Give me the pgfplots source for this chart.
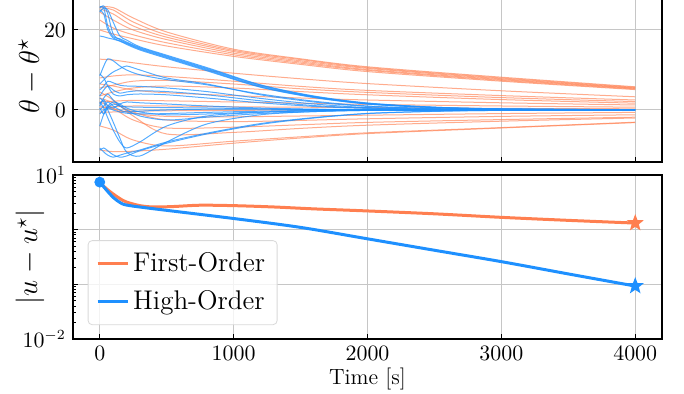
\documentclass[border=0pt]{standalone}
\usepackage{pgfplots}
\pgfplotsset{compat=1.18}
\definecolor{coralc}{RGB}{255,127,80}
\definecolor{dodger}{RGB}{30,144,255}
\pgfdeclareplotmark{fstar}{%
  \pgfpathmoveto{\pgfpointpolar{90}{\pgfplotmarksize}}%
  \pgfpathlineto{\pgfpointpolar{126}{0.42\pgfplotmarksize}}%
  \pgfpathlineto{\pgfpointpolar{162}{\pgfplotmarksize}}%
  \pgfpathlineto{\pgfpointpolar{198}{0.42\pgfplotmarksize}}%
  \pgfpathlineto{\pgfpointpolar{234}{\pgfplotmarksize}}%
  \pgfpathlineto{\pgfpointpolar{270}{0.42\pgfplotmarksize}}%
  \pgfpathlineto{\pgfpointpolar{306}{\pgfplotmarksize}}%
  \pgfpathlineto{\pgfpointpolar{342}{0.42\pgfplotmarksize}}%
  \pgfpathlineto{\pgfpointpolar{18}{\pgfplotmarksize}}%
  \pgfpathlineto{\pgfpointpolar{54}{0.42\pgfplotmarksize}}%
  \pgfpathclose\pgfusepathqfill}
\pgfplotsset{
  common/.style={scale only axis, width=294.5pt, xmin=-200, xmax=4200,
    xtick={0,1000,2000,3000,4000}, tick align=inside, major tick length=2.5pt,
    minor tick length=1.5pt, grid=major, major grid style={gray!45, line width=0.5pt},
    axis line style={line width=0.7pt}, tick style={black, line width=0.5pt},
    xtick pos=lower, ytick pos=left,
    xticklabel style={/pgf/number format/set thousands separator={}},
    tick label style={font=\fontsize{10.5}{12}\selectfont}, clip=true},
  fo/.style={coralc, line width=0.5pt, opacity=0.65, smooth},
  ho/.style={dodger, line width=0.5pt, opacity=0.75, smooth},
}
\begin{document}
\begin{tikzpicture}
% ---------------- bottom axis ----------------
\begin{axis}[common, at={(0,0)}, anchor=south west, height=82pt,
  ymode=log, ymin=0.01, ymax=10,
  ytick={0.01,0.1,1,10}, yticklabels={$10^{-2}$,,,$10^{1}$},
  minor ytick={0.02,0.03,0.04,0.05,0.06,0.07,0.08,0.09,0.2,0.3,0.4,0.5,0.6,0.7,0.8,0.9,2,3,4,5,6,7,8,9},
  xlabel={Time [s]}, xlabel style={font=\fontsize{11}{12}\selectfont, yshift=3pt},
  ylabel={$|u-u^\star|$}, ylabel style={font=\fontsize{14.5}{16}\selectfont,
    at={(axis description cs:-0.073,0.5)}, anchor=center},
  legend style={at={(0.025,0.085)}, anchor=south west, draw=gray!30, rounded corners=2pt,
    fill=white, fill opacity=0.8, text opacity=1, font=\fontsize{13.5}{15}\selectfont,
    row sep=4pt, inner sep=4pt},
  legend cell align=left,
  legend image code/.code={\draw[line width=1.5pt] (0pt,0pt) -- (15pt,0pt);}]
\addplot[coralc, line width=1.5pt, smooth] coordinates {(0,7.4)(50,5.6)(100,4.5)(150,3.7)(200,3.2)(300,2.75)(400,2.6)(550,2.65)(750,2.8)(1000,2.75)(1300,2.6)(1600,2.4)(2000,2.2)(2500,1.95)(3000,1.68)(3500,1.48)(4000,1.32)};
\addlegendentry{First-Order}
\addplot[dodger, line width=1.5pt, smooth] coordinates {(0,7.4)(50,5.3)(100,3.9)(150,3.15)(200,2.82)(380,2.45)(1000,1.6)(1500,1.1)(2000,0.68)(2500,0.42)(3000,0.26)(3500,0.155)(4000,0.093)};
\addlegendentry{High-Order}
\addplot[only marks, mark=fstar, mark size=4.5pt, coralc, forget plot] coordinates {(4000,1.32)};
\addplot[only marks, mark=fstar, mark size=4.5pt, dodger, forget plot] coordinates {(4000,0.093)};
\addplot[only marks, mark=*, mark size=2.5pt, dodger, forget plot] coordinates {(0,7.4)};
\end{axis}
% ---------------- top axis ----------------
\begin{axis}[common, at={(0,88.5pt)}, anchor=south west, height=86pt,
  ymin=-13, ymax=30, ytick={0,20}, xticklabels={},
  ylabel={$\theta-\theta^\star$}, ylabel style={font=\fontsize{15}{17}\selectfont,
    at={(axis description cs:-0.073,0.5)}, anchor=center}]
% first order
\addplot[fo] coordinates {(0,25.8)(100,25.6)(250,23.0)(500,19.5)(1000,15.2)(1500,12.8)(2000,10.8)(3000,8.2)(4000,5.8)};
\addplot[fo] coordinates {(0,25.6)(100,25.0)(250,22.0)(500,18.8)(1000,14.9)(1500,12.6)(2000,10.6)(3000,8.0)(4000,5.65)};
\addplot[fo] coordinates {(0,25.3)(100,24.0)(250,21.0)(500,18.2)(1000,14.6)(1500,12.3)(2000,10.4)(3000,7.8)(4000,5.5)};
\addplot[fo] coordinates {(0,24.5)(100,22.5)(250,20.0)(500,17.6)(1000,14.2)(1500,12.0)(2000,10.1)(3000,7.6)(4000,5.4)};
\addplot[fo] coordinates {(0,22.5)(100,20.5)(250,18.8)(500,16.8)(1000,13.8)(1500,11.7)(2000,9.9)(3000,7.4)(4000,5.25)};
\addplot[fo] coordinates {(0,20.0)(100,19.0)(250,17.8)(500,16.0)(1000,13.4)(1500,11.4)(2000,9.6)(3000,7.2)(4000,5.1)};
\addplot[fo] coordinates {(0,12.7)(100,12.5)(250,11.8)(500,10.8)(1000,9.2)(1500,7.8)(2000,6.6)(3000,4.8)(4000,3.3)};
\addplot[fo] coordinates {(0,8.0)(100,8.5)(250,8.8)(500,8.4)(1000,7.2)(1500,5.9)(2000,4.9)(3000,3.6)(4000,2.5)};
\addplot[fo] coordinates {(0,5.5)(100,6.2)(250,7.2)(500,7.4)(1000,6.5)(1500,5.3)(2000,4.4)(3000,3.1)(4000,2.1)};
\addplot[fo] coordinates {(0,3.5)(100,4.5)(250,5.5)(500,6.0)(1000,5.5)(1500,4.6)(2000,3.8)(3000,2.6)(4000,1.7)};
\addplot[fo] coordinates {(0,6.5)(100,6.0)(250,5.0)(500,4.3)(1000,3.6)(1500,3.0)(2000,2.5)(3000,1.8)(4000,1.25)};
\addplot[fo] coordinates {(0,2.0)(100,2.2)(250,2.4)(500,2.3)(1000,2.0)(1500,1.7)(2000,1.4)(3000,1.0)(4000,0.7)};
\addplot[fo] coordinates {(0,0.5)(100,0.8)(250,1.0)(500,1.0)(1000,0.8)(1500,0.7)(2000,0.6)(3000,0.4)(4000,0.3)};
\addplot[fo] coordinates {(0,-0.5)(100,-0.5)(250,-0.3)(500,-0.2)(1000,-0.1)(1500,0)(2000,0)(3000,0)(4000,0)};
\addplot[fo] coordinates {(0,1.0)(100,0.3)(250,-0.8)(500,-1.6)(1000,-1.7)(1500,-1.5)(2000,-1.3)(3000,-0.9)(4000,-0.6)};
\addplot[fo] coordinates {(0,3.0)(100,1.8)(250,-0.5)(500,-2.5)(1000,-2.9)(1500,-2.6)(2000,-2.2)(3000,-1.6)(4000,-1.2)};
\addplot[fo] coordinates {(0,2.0)(100,0.5)(250,-2.5)(500,-4.5)(1000,-4.3)(1500,-3.7)(2000,-3.1)(3000,-2.4)(4000,-1.8)};
\addplot[fo] coordinates {(0,4.5)(100,2.5)(250,-1.5)(500,-6.0)(1000,-5.6)(1500,-4.6)(2000,-3.8)(3000,-2.8)(4000,-2.0)};
\addplot[fo] coordinates {(0,-4.0)(100,-5.0)(250,-7.5)(500,-9.0)(1000,-7.8)(1500,-6.7)(2000,-5.7)(3000,-4.4)(4000,-3.05)};
\addplot[fo] coordinates {(0,-10.0)(100,-10.4)(250,-10.3)(500,-9.8)(1000,-8.3)(1500,-7.0)(2000,-5.9)(3000,-4.5)(4000,-3.15)};
% high order
\addplot[ho] coordinates {(0,25.8)(30,25.5)(60,21)(100,18.3)(150,17.8)(200,17.0)(300,15.6)(500,13.5)(800,10.4)(1200,6.2)(1600,3.4)(2000,1.7)(2500,0.7)(3000,0.3)(4000,0.05)};
\addplot[ho] coordinates {(0,25.5)(30,26)(60,24)(100,19)(150,17.6)(200,16.8)(300,15.4)(500,13.3)(800,10.2)(1200,6.0)(1600,3.3)(2000,1.6)(2500,0.65)(3000,0.25)(4000,0.05)};
\addplot[ho] coordinates {(0,25.0)(30,24)(60,20)(100,18)(150,17.3)(200,16.6)(300,15.2)(500,13.1)(800,10.0)(1200,5.8)(1600,3.2)(2000,1.5)(2500,0.6)(3000,0.25)(4000,0.05)};
\addplot[ho] coordinates {(0,24.5)(30,25.5)(60,25)(100,22)(150,18.5)(200,17.5)(300,15.8)(500,13.7)(800,10.6)(1200,6.3)(1600,3.5)(2000,1.75)(2500,0.7)(3000,0.3)(4000,0.05)};
\addplot[ho] coordinates {(0,18.5)(30,18.3)(60,18.0)(100,17.7)(150,17.2)(200,16.4)(300,15.0)(500,12.9)(800,9.8)(1200,5.7)(1600,3.1)(2000,1.5)(2500,0.6)(3000,0.2)(4000,0.05)};
\addplot[ho] coordinates {(0,8.5)(30,11)(60,12.8)(100,12.3)(150,11)(200,10)(300,8.8)(500,7.6)(800,6.3)(1200,4.0)(1600,2.2)(2000,1.0)(2500,0.35)(3000,0.1)(4000,0)};
\addplot[ho] coordinates {(0,6.5)(30,7.5)(60,8.5)(100,9.5)(150,10.3)(200,11.0)(300,10.0)(500,8.0)(800,6.5)(1200,3.8)(1600,2.0)(2000,0.9)(2500,0.3)(3000,0.1)(4000,0)};
\addplot[ho] coordinates {(0,5.0)(30,6.0)(60,7.2)(100,6.8)(150,6.2)(200,6.0)(300,5.9)(500,5.5)(800,4.6)(1200,2.9)(1600,1.5)(2000,0.6)(2500,0.2)(3000,0.05)(4000,0)};
\addplot[ho] coordinates {(0,3.5)(30,5)(60,6)(100,5)(150,4.2)(200,4.5)(300,4.8)(500,4.6)(800,3.8)(1200,2.3)(1600,1.1)(2000,0.5)(2500,0.15)(3000,0.05)(4000,0)};
\addplot[ho] coordinates {(0,9)(30,8)(60,6)(100,4)(150,3.5)(200,3.8)(300,4.0)(500,3.8)(800,3.0)(1200,1.8)(1600,0.9)(2000,0.4)(2500,0.1)(3000,0)(4000,0)};
\addplot[ho] coordinates {(0,1.5)(30,2.5)(60,1.0)(100,0.5)(150,1.5)(200,2.0)(300,1.8)(500,1.5)(800,1.0)(1200,0.5)(1600,0.2)(2000,0.1)(2500,0)(3000,0)(4000,0)};
\addplot[ho] coordinates {(0,0.5)(30,-1)(60,0.5)(100,1.5)(150,1.0)(200,0.8)(300,0.7)(500,0.6)(800,0.5)(1200,0.3)(1600,0.15)(2000,0.05)(2500,0)(3000,0)(4000,0)};
\addplot[ho] coordinates {(0,0)(30,1)(60,2)(100,1)(150,0)(200,-0.5)(300,-0.3)(500,0)(800,0.2)(1200,0.2)(1600,0.1)(2000,0)(2500,0)(3000,0)(4000,0)};
\addplot[ho] coordinates {(0,-1)(30,0)(60,0.5)(100,0)(150,-0.5)(200,-0.8)(300,-1.0)(500,-0.9)(800,-0.6)(1200,-0.3)(1600,-0.1)(2000,0)(2500,0)(3000,0)(4000,0)};
\addplot[ho] coordinates {(0,2)(30,0.5)(60,-2)(100,-5)(150,-8)(200,-9.5)(300,-8)(500,-4)(800,-1.5)(1200,-0.6)(1600,-0.2)(2000,-0.05)(2500,0)(3000,0)(4000,0)};
\addplot[ho] coordinates {(0,3)(30,2)(60,0)(100,-3)(150,-7)(200,-10.5)(300,-11.5)(500,-8)(800,-3.5)(1200,-1.2)(1600,-0.4)(2000,-0.1)(2500,0)(3000,0)(4000,0)};
\addplot[ho] coordinates {(0,-10)(30,-9.5)(60,-10.2)(100,-11.2)(150,-11.8)(200,-11.5)(300,-10.2)(500,-8.3)(800,-6.0)(1200,-3.6)(1600,-2.0)(2000,-0.9)(2500,-0.35)(3000,-0.1)(4000,0)};
\addplot[ho] coordinates {(0,-9.5)(30,-10.5)(60,-11.3)(100,-11.8)(150,-11.3)(200,-10.8)(300,-10.0)(500,-8.0)(800,-5.8)(1200,-3.4)(1600,-1.9)(2000,-0.85)(2500,-0.3)(3000,-0.1)(4000,0)};
\addplot[ho] coordinates {(0,-4)(30,-1)(60,1)(100,2)(150,1.5)(200,0.5)(300,-0.5)(500,-1.2)(800,-1.0)(1200,-0.5)(1600,-0.2)(2000,-0.05)(2500,0)(3000,0)(4000,0)};
\addplot[ho] coordinates {(0,1)(30,3)(60,4)(100,2.5)(150,1)(200,0)(300,-1.5)(500,-2.5)(800,-1.8)(1200,-0.9)(1600,-0.4)(2000,-0.1)(2500,0)(3000,0)(4000,0)};
\end{axis}
\pgfresetboundingbox
\useasboundingbox (-36.5pt,-27.5pt) rectangle (305.5pt,169.5pt);
\end{tikzpicture}
\end{document}
